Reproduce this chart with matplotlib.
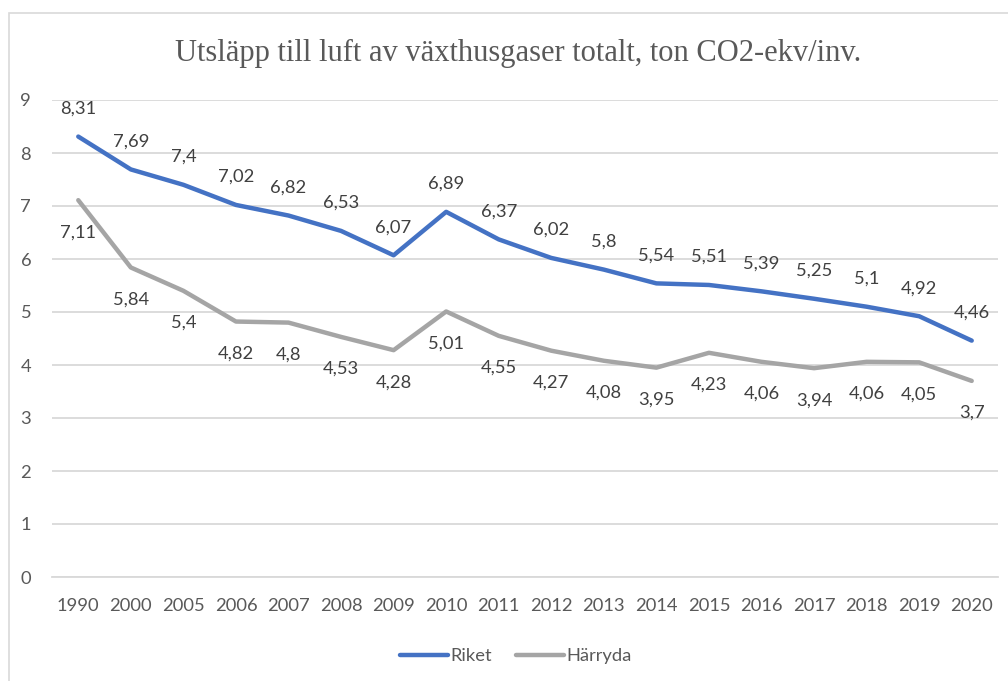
import matplotlib
matplotlib.use('Agg')
import matplotlib.pyplot as plt
from matplotlib.patches import Rectangle

years = ['1990', '2000', '2005', '2006', '2007', '2008', '2009', '2010', '2011',
         '2012', '2013', '2014', '2015', '2016', '2017', '2018', '2019', '2020']
riket = [8.31, 7.69, 7.4, 7.02, 6.82, 6.53, 6.07, 6.89, 6.37,
         6.02, 5.8, 5.54, 5.51, 5.39, 5.25, 5.1, 4.92, 4.46]
harryda = [7.11, 5.84, 5.4, 4.82, 4.8, 4.53, 4.28, 5.01, 4.55,
           4.27, 4.08, 3.95, 4.23, 4.06, 3.94, 4.06, 4.05, 3.7]
title = 'Utsläpp till luft av växthusgaser totalt, ton CO2-ekv/inv.'

plt.rcParams['font.family'] = ['Lato', 'DejaVu Sans']
txt = '#595959'
grid = '#d9d9d9'
fs = 13.2

fig = plt.figure(figsize=(10.08, 6.81), dpi=100)
ax = fig.add_axes([52/1008, 104/681, 946/1008, 477/681])

# frame round the chart, like the Excel chart area
fig.patches.append(Rectangle((9/1008, -0.05), 1.2, (681-13)/681 + 0.05,
                             transform=fig.transFigure, fill=False,
                             edgecolor=grid, linewidth=1.2, clip_on=False))

x = list(range(len(years)))
ax.plot(x, riket, color='#4472C4', lw=3.2, solid_capstyle='round',
        solid_joinstyle='round', label='Riket', zorder=3)
ax.plot(x, harryda, color='#A5A5A5', lw=3.2, solid_capstyle='round',
        solid_joinstyle='round', label='Härryda', zorder=3)

for i, v in enumerate(riket):
    ax.annotate(str(v).replace('.', ','), (i, v), xytext=(0, 28),
                textcoords='offset pixels', ha='center', va='center',
                fontsize=fs, color='#404040')
for i, v in enumerate(harryda):
    ax.annotate(str(v).replace('.', ','), (i, v), xytext=(0, -32),
                textcoords='offset pixels', ha='center', va='center',
                fontsize=fs, color='#404040')

ax.set_xlim(-0.5, len(years) - 0.5)
ax.set_ylim(0, 9)
ax.set_yticks(range(10))
ax.set_xticks(x)
ax.set_xticklabels(years)
ax.tick_params(axis='both', length=0, labelsize=fs, labelcolor=txt)
ax.tick_params(axis='y', pad=15)
ax.tick_params(axis='x', pad=15)
ax.yaxis.grid(True, color=grid, lw=1.3)
ax.set_axisbelow(True)
for s in ['top', 'right', 'left']:
    ax.spines[s].set_visible(False)
ax.spines['bottom'].set_color(grid)
ax.spines['bottom'].set_linewidth(1.3)

fig.text(518/1008, 1 - 53/681, title, ha='center', va='center',
         fontsize=22, color=txt, family='Liberation Serif')

fig.legend(loc='center', bbox_to_anchor=(516/1008, 1 - 656/681), ncol=2,
           frameon=False, fontsize=fs, labelcolor=txt, handlelength=2.6,
           handletextpad=0.15, columnspacing=1.3)

fig.savefig('out.png', dpi=100)
